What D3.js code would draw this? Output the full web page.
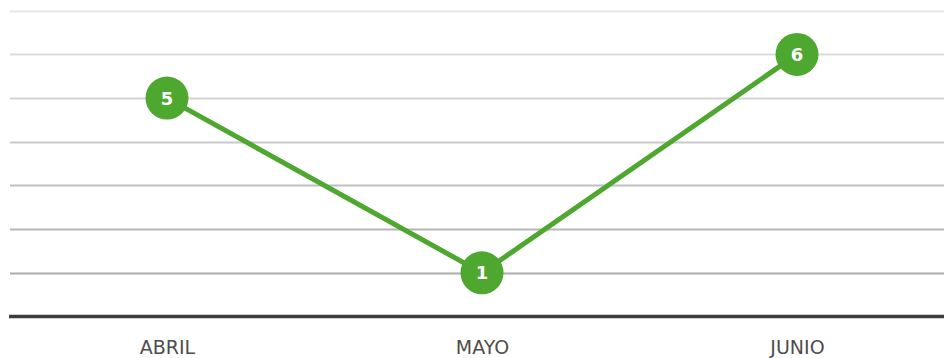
<!DOCTYPE html>
<html>
<head>
<meta charset="utf-8">
<script src="https://cdn.jsdelivr.net/npm/d3@7"></script>
<style>
  html, body { margin: 0; padding: 0; background: #fff; }
  svg { display: block; }
</style>
</head>
<body>
<svg id="chart" width="944" height="358"></svg>
<script>
const categories = ["ABRIL", "MAYO", "JUNIO"];
const values = [5, 1, 6];
const yTicks = [1, 2, 3, 4, 5, 6, 7];

const svg = d3.select("#chart");
const W = 944, H = 358;

const x = d3.scalePoint().domain(categories).range([9.5, 954.5]).padding(0.5);
const y = d3.scaleLinear().domain([0, 7]).range([316.5, 10.7]);

const gridColor = d3.scaleLinear().domain([1, 7]).range(["#acacac", "#e6e6e6"]);

// gridlines
svg.append("g").selectAll("line").data(yTicks).join("line")
  .attr("x1", 10).attr("x2", W)
  .attr("y1", d => Math.round(y(d)) + 0.5).attr("y2", d => Math.round(y(d)) + 0.5)
  .attr("stroke", d => gridColor(d)).attr("stroke-width", 2);

// baseline
svg.append("line")
  .attr("x1", 9).attr("x2", W)
  .attr("y1", y(0)).attr("y2", y(0))
  .attr("stroke", "#3d3d3d").attr("stroke-width", 3.5);

// x axis labels
const xAxis = d3.axisBottom(x).tickSize(0).tickPadding(0);
const gx = svg.append("g").attr("transform", `translate(0,${y(0)})`).call(xAxis);
gx.select(".domain").remove();
gx.selectAll("text")
  .attr("y", 37.5)
  .attr("dy", 0)
  .attr("fill", "#4d4d4d")
  .style("font-family", "'DejaVu Sans', sans-serif")
  .style("font-size", "19px");

const data = categories.map((c, i) => ({ c, v: values[i] }));

// line
svg.append("path")
  .datum(data)
  .attr("fill", "none")
  .attr("stroke", "#4ea72e")
  .attr("stroke-width", 5)
  .attr("stroke-linejoin", "round")
  .attr("d", d3.line().x(d => x(d.c)).y(d => y(d.v)));

// points
const pts = svg.append("g").selectAll("g").data(data).join("g")
  .attr("transform", d => `translate(${x(d.c)},${y(d.v)})`);
pts.append("circle").attr("r", 21.5).attr("fill", "#4ea72e");
pts.append("text")
  .text(d => d.v)
  .attr("text-anchor", "middle")
  .attr("dy", "0.36em")
  .attr("fill", "#fff")
  .style("font-family", "'DejaVu Sans', sans-serif")
  .style("font-weight", "bold")
  .style("font-size", "18px");
</script>
</body>
</html>
